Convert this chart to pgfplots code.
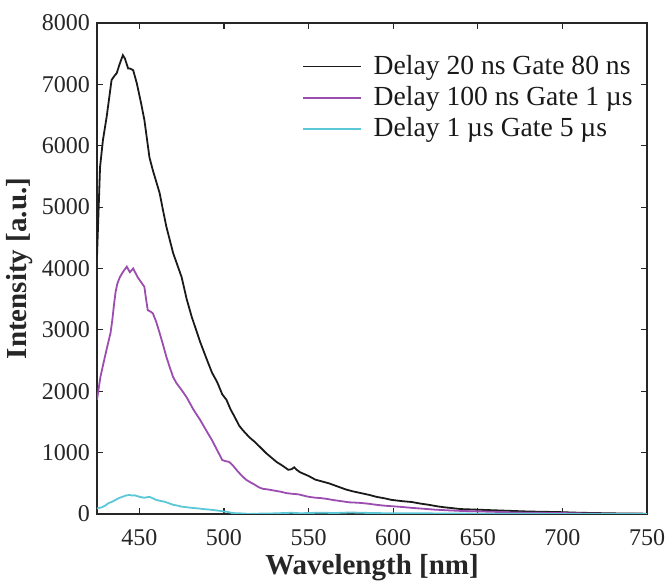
\documentclass[border=0pt]{standalone}
\usepackage{fontspec}
\setmainfont{Liberation Serif}
\usepackage{pgfplots}
\pgfplotsset{compat=1.18}
\definecolor{cblack}{HTML}{1A1A1A}
\definecolor{cpurple}{HTML}{9C4DB0}
\definecolor{ccyan}{HTML}{5CC8D7}
\definecolor{axgray}{HTML}{262626}
\begin{document}
\begin{tikzpicture}
\begin{axis}[
  scale only axis,
  width=275pt, height=245.5pt,
  xmin=425, xmax=750, ymin=0, ymax=8000,
  xtick={450,500,...,750},
  ytick={0,1000,...,8000},
  scaled ticks=false,
  /pgf/number format/1000 sep={},
  /pgf/number format/assume math mode=true,
  tick label style={font=\fontsize{12}{14}\selectfont, color=axgray},
  xticklabel style={yshift=-4pt},
  axis line style={color=axgray, line width=0.6pt},
  major tick style={color=axgray, line width=0.6pt},
  major tick length=3pt,
  xlabel={\bfseries Wavelength [nm]},
  ylabel={\bfseries Intensity [a.u.]},
  label style={font=\fontsize{14.5}{16}\selectfont, color=axgray},
  xlabel style={at={(axis description cs:0.5,0)}, anchor=base, yshift=-30.5pt},
  ylabel style={at={(axis description cs:0,0.5)}, anchor=center, yshift=38.5pt},
  legend style={at={(rel axis cs:1,1)}, anchor=north east, xshift=-2pt, yshift=-12pt,
    draw=none, fill=none, font=\fontsize{13.8}{16}\selectfont, text=black!90,
    row sep=0.5pt},
  legend cell align=left,
  legend image code/.code={\draw[#1] (0pt,0pt) -- (29pt,0pt); \path (33pt,0pt);},
]
\coordinate (O) at (rel axis cs:0,0);
\addplot[cblack, line width=0.9pt] coordinates {
(425,4190) (426.8,5650) (428.5,6090) (430.7,6470) (432.6,6860) (433.6,7070) (435.6,7150)
(436.6,7180) (438.5,7340) (440.3,7475) (441.5,7420) (443.4,7260) (444.4,7260) (446.4,7230)
(448.5,7020) (451,6700) (453,6420) (456,5810) (458,5600) (462,5230) (464,4950) (466,4680)
(470,4250) (475,3860) (478,3500) (481,3210) (486,2800) (490,2510) (493,2300) (496,2150)
(499,1950) (501.5,1860) (504,1700) (506,1600) (509,1440) (511,1370) (515,1250) (518,1180)
(521,1100) (525,990) (528,920) (531,850) (535,780) (538,720) (540,730) (541.5,760) (543,720)
(545,680) (550,620) (554,560) (558,530) (562,500) (567,450) (572,400) (576,370) (581,340)
(586,310) (590,280) (595,255) (599,230) (605,210) (611,195) (616,170) (621,150) (626,125)
(630,110) (635,95) (640,80) (645,75) (650,70) (655,65) (660,60) (670,50) (680,40) (690,35)
(699,30) (710,20) (720,15) (735,8) (750,5)
};
\addlegendentry{Delay 20 ns Gate 80 ns}
\addplot[cpurple, line width=0.9pt] coordinates {
(425,1860) (427,2230) (429,2480) (431,2720) (433,2950) (434,3150) (435,3400) (436,3620)
(437,3750) (438.5,3860) (440.5,3950) (442.6,4030) (444.4,3940) (446.4,4000) (447.5,3940) (449,3860)
(451,3780) (453,3700) (454,3500) (455,3320) (456.5,3300) (458,3270) (460,3130) (462,2950) (464,2760)
(466,2560) (468,2390) (470,2230) (472,2130) (475,2020) (478,1900) (482,1700) (486,1530)
(490,1340) (493,1200) (496,1040) (499,880) (501,860) (503,850) (505,800) (508,700)
(510,640) (513,560) (516,510) (518,480) (521,430) (523,410) (526,400) (530,380) (534,360)
(537,340) (540,330) (544,320) (547,300) (550,280) (554,265) (557,260) (561,245) (564,230)
(569,210) (574,190) (578,185) (581,180) (586,165) (590,150) (595,135) (600,125) (605,115)
(611,100) (618,85) (625,70) (632,60) (640,50) (650,42) (660,35) (670,25) (680,20) (690,18)
(700,15) (710,10) (720,6) (735,3) (750,0)
};
\addlegendentry{Delay 100 ns Gate 1 µs}
\addplot[ccyan, line width=0.9pt] coordinates {
(425,90) (428,110) (430,140) (432,180) (434,200) (436,230) (438,260) (440,280) (442,300)
(444,310) (446,300) (447,305) (449,290) (450,280) (452,270) (453,265) (455,275) (456,280)
(458,255) (460,230) (462,215) (463,210) (465,200) (466,190) (468,170) (470,150) (472,140)
(475,120) (478,110) (481,100) (485,90) (488,80) (492,70) (495,60) (498,50) (500,40) (502,35)
(505,15) (508,12) (510,10) (513,5) (515,0) (518,5) (520,5) (525,8) (530,10) (535,15)
(540,20) (545,12) (550,15) (555,20) (560,20) (565,15) (570,20) (575,25) (580,20) (590,15)
(600,10) (610,12) (620,10) (635,8) (650,5) (675,3) (700,0) (725,0) (750,0)
};
\addlegendentry{Delay 1 µs Gate 5 µs}
\end{axis}
\pgfresetboundingbox
\path (O) ++(-48.5pt,-33.5pt) rectangle ++(332.5pt,290.5pt);
\end{tikzpicture}
\end{document}
